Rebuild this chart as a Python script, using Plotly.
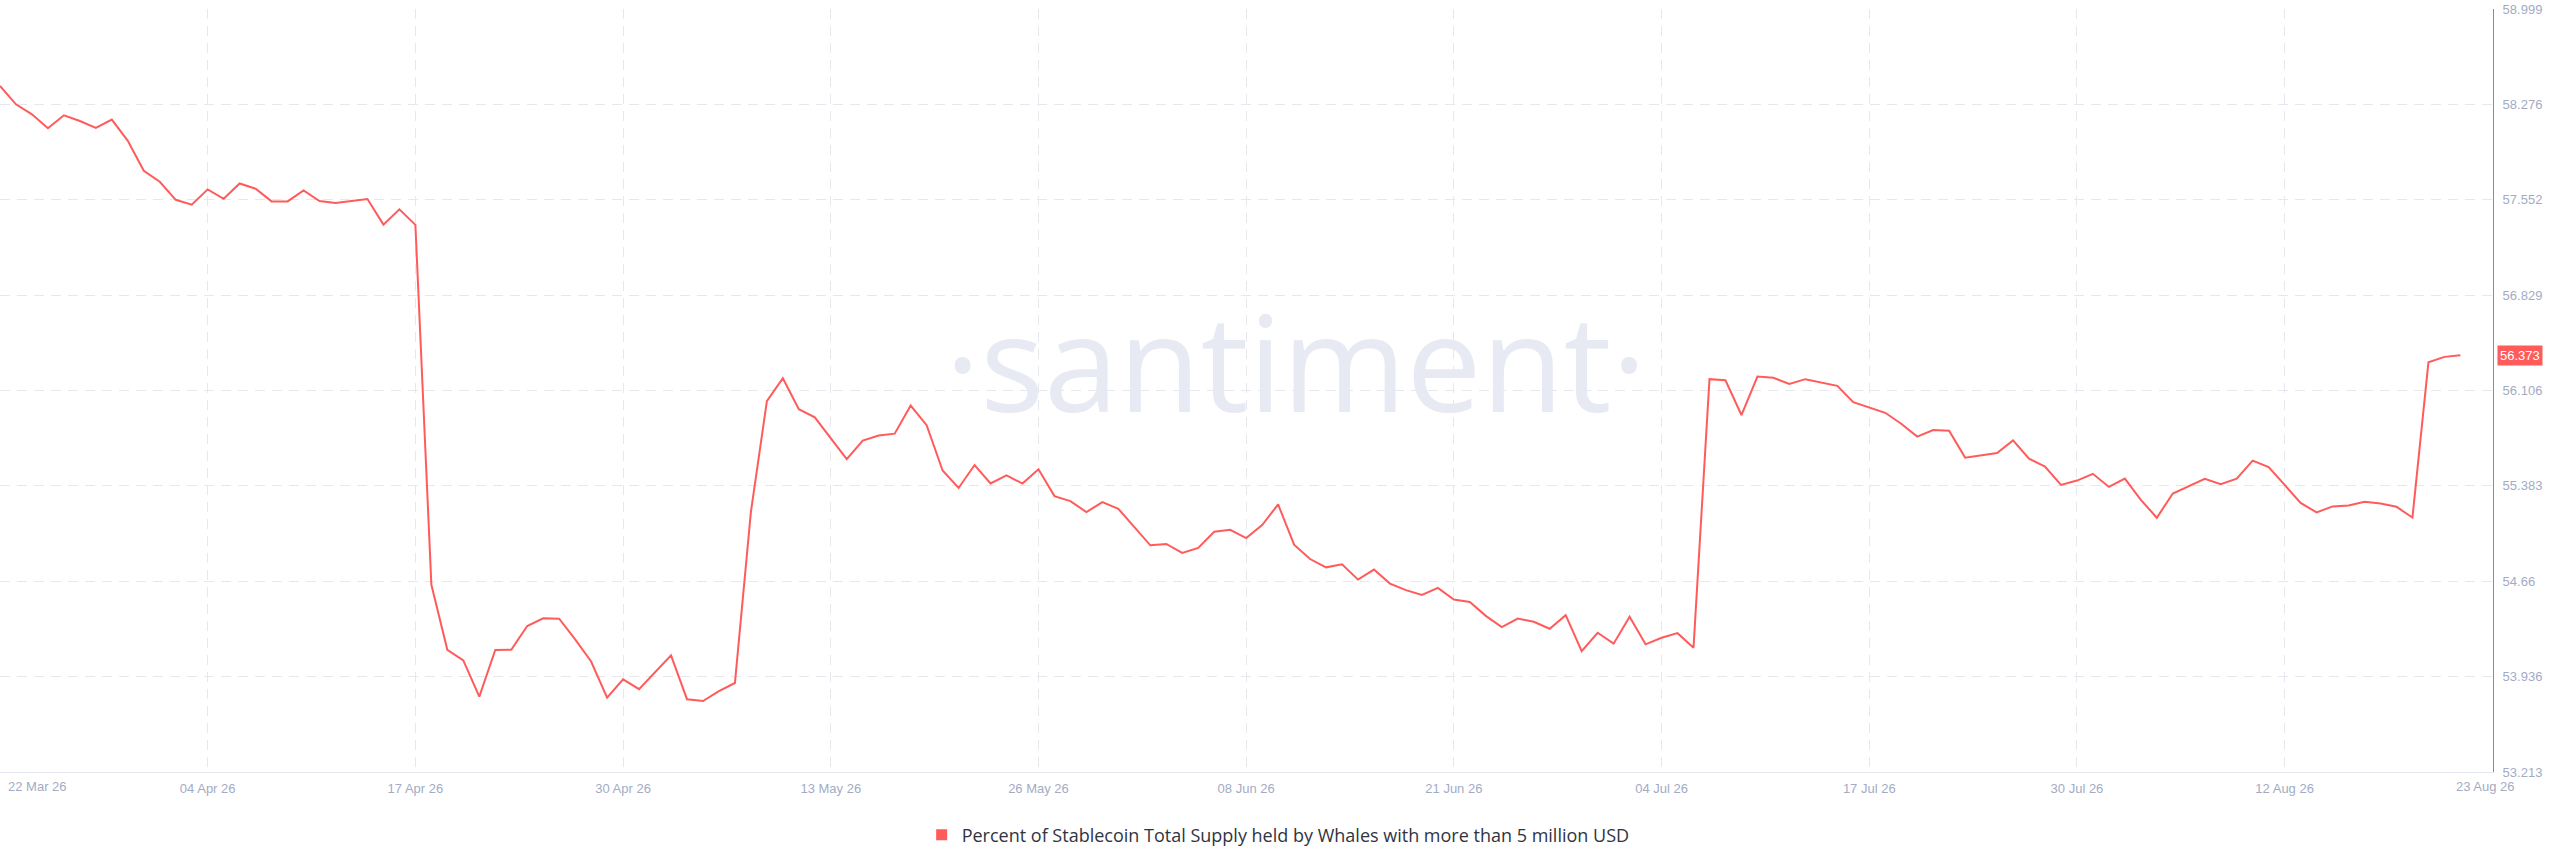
import pandas as pd
import plotly.graph_objects as go

start_date = "2026-03-22"
series_name = "Percent of Stablecoin Total Supply held by Whales with more than 5 million USD"
whale_pct = [
    58.415, 58.276, 58.200, 58.095, 58.193, 58.150, 58.097, 58.160, 57.999, 57.772,
    57.689, 57.552, 57.515, 57.631, 57.560, 57.676, 57.636, 57.540, 57.540, 57.623,
    57.543, 57.528, 57.543, 57.558, 57.364, 57.480, 57.362, 54.633, 54.140, 54.059,
    53.785, 54.138, 54.140, 54.320, 54.378, 54.376, 54.219, 54.051, 53.776, 53.916,
    53.841, 53.970, 54.098, 53.765, 53.751, 53.827, 53.888, 55.185, 56.025, 56.199,
    55.964, 55.902, 55.745, 55.586, 55.726, 55.765, 55.779, 55.992, 55.843, 55.499,
    55.367, 55.541, 55.401, 55.463, 55.400, 55.509, 55.305, 55.267, 55.184, 55.259,
    55.209, 55.070, 54.932, 54.942, 54.874, 54.912, 55.035, 55.050, 54.987, 55.085,
    55.242, 54.937, 54.828, 54.765, 54.788, 54.672, 54.748, 54.642, 54.592, 54.556,
    54.609, 54.521, 54.503, 54.397, 54.312, 54.377, 54.352, 54.299, 54.402, 54.130,
    54.269, 54.186, 54.390, 54.181, 54.231, 54.266, 54.156, 56.192, 56.184, 55.920,
    56.212, 56.202, 56.156, 56.192, 56.169, 56.141, 56.018, 55.980, 55.937, 55.854,
    55.756, 55.806, 55.801, 55.597, 55.617, 55.632, 55.728, 55.589, 55.529, 55.390,
    55.423, 55.474, 55.375, 55.438, 55.277, 55.141, 55.325, 55.383, 55.436, 55.395,
    55.438, 55.574, 55.526, 55.390, 55.254, 55.181, 55.227, 55.234, 55.262, 55.249,
    55.224, 55.143, 56.320, 56.361, 56.373,
]
dates = pd.date_range(start_date, periods=len(whale_pct), freq="D")

x_tick_dates = ["2026-03-22", "2026-04-04", "2026-04-17", "2026-04-30", "2026-05-13",
                "2026-05-26", "2026-06-08", "2026-06-21", "2026-07-04", "2026-07-17",
                "2026-07-30", "2026-08-12"]
x_tick_labels = ["", "04 Apr 26", "17 Apr 26", "30 Apr 26", "13 May 26", "26 May 26",
                 "08 Jun 26", "21 Jun 26", "04 Jul 26", "17 Jul 26", "30 Jul 26", "12 Aug 26"]
first_date_label = "22 Mar 26"
last_date_label = "23 Aug 26"
y_tick_vals = [53.213, 53.936, 54.66, 55.383, 56.106, 56.829, 57.552, 58.276, 58.999]
y_tick_labels = ["53.213", "53.936", "54.66", "55.383", "56.106", "56.829", "57.552", "58.276", "58.999"]
x_range = ["2026-03-22", "2026-08-25 01:00"]
y_range = [53.213, 58.999]

RED = "#ff5b5b"
TICK_COLOR = "#a3abc4"
GRID_COLOR = "#e6e8f0"
FONT = "Liberation Sans, Arial, sans-serif"

fig = go.Figure()
fig.add_trace(go.Scatter(x=dates, y=whale_pct, mode="lines", name=series_name,
                         line=dict(color=RED, width=2), showlegend=False))
fig.add_trace(go.Scatter(x=[None], y=[None], mode="markers", name=series_name,
                         marker=dict(symbol="square", size=11, color=RED), showlegend=True))

fig.update_layout(
    width=2560, height=867,
    margin=dict(l=0, r=67, t=9, b=95),
    paper_bgcolor="white", plot_bgcolor="white",
    font=dict(family=FONT, size=13, color=TICK_COLOR),
    showlegend=True,
    legend=dict(orientation="h", x=0.5127, xanchor="center", y=-0.0826, yanchor="middle",
                font=dict(family="Open Sans, sans-serif", size=18, color="#30343f"),
                itemwidth=30, bgcolor="rgba(0,0,0,0)"),
    xaxis=dict(type="date", range=x_range, tickvals=x_tick_dates, ticktext=x_tick_labels,
               showgrid=True, gridcolor=GRID_COLOR, griddash="10px,7px", gridwidth=1,
               showline=True, linecolor="#e3e6ee", linewidth=1,
               ticks="outside", ticklen=4, tickcolor="rgba(0,0,0,0)",
               tickfont=dict(size=13, color=TICK_COLOR), zeroline=False),
    yaxis=dict(side="right", range=y_range, tickvals=y_tick_vals, ticktext=y_tick_labels,
               showgrid=True, gridcolor=GRID_COLOR, griddash="10px,7px", gridwidth=1,
               showline=True, linecolor=RED, linewidth=1,
               ticks="outside", ticklen=6, tickcolor="rgba(0,0,0,0)",
               tickfont=dict(size=13, color=TICK_COLOR), zeroline=False),
)

fig.add_annotation(text="·santiment·", xref="paper", yref="paper", x=0.52, y=0.54,
                   xanchor="center", yanchor="middle", showarrow=False,
                   font=dict(family="Open Sans, sans-serif", size=134, color="#e7eaf3"))
fig.add_annotation(text=first_date_label, xref="paper", yref="paper", x=0, y=0,
                   xanchor="left", yanchor="top", xshift=6, yshift=-5, showarrow=False,
                   font=dict(size=13, color=TICK_COLOR))
fig.add_annotation(text=last_date_label, xref="paper", yref="paper", x=1, y=0,
                   xanchor="right", yanchor="top", xshift=24, yshift=-5, showarrow=False,
                   font=dict(size=13, color=TICK_COLOR))
fig.add_annotation(text=f"{whale_pct[-1]:.3f}", xref="paper", yref="y", x=1, y=whale_pct[-1],
                   xanchor="left", yanchor="middle", xshift=4, showarrow=False,
                   bgcolor=RED, borderpad=2, font=dict(size=13, color="white"))

fig.write_html("out.html", config={"displayModeBar": False},
               post_script="document.body.style.margin='0';")
